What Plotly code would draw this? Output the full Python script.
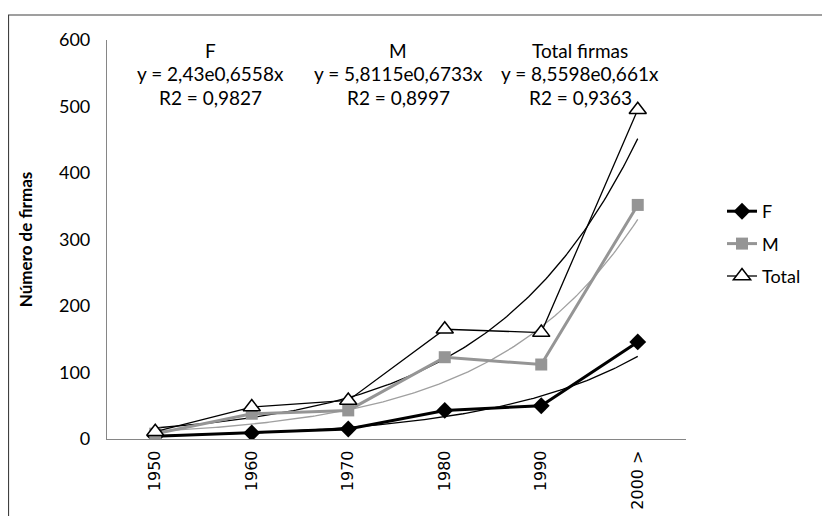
import numpy as np
import plotly.graph_objects as go

categories = ["1950", "1960", "1970", "1980", "1990", "2000 >"]
f_values = [4, 9, 15, 43, 50, 146]
m_values = [8, 38, 43, 123, 112, 352]
total_values = [11, 48, 58, 165, 160, 495]

# exponential trend coefficients shown on the chart: y = a * e^(b*x), x = 1..6
trend_a = [2.43, 5.8115, 8.5598]
trend_b = [0.6558, 0.6733, 0.661]
trend_labels = [["F", "y = 2,43e0,6558x", "R2 = 0,9827"],
                ["M", "y = 5,8115e0,6733x", "R2 = 0,8997"],
                ["Total firmas", "y = 8,5598e0,661x", "R2 = 0,9363"]]

OFF = 8  # page body margin
W, H = 830 - OFF, 516 - OFF
# plot area in page pixels: x 107..686, y 40..439
L, T = 107 - OFF, 40 - OFF
R = W - (686 - OFF)
B = H - (439 - OFF)
plot_w = W - L - R
plot_h = H - T - B

FONT = "Lato, Open Sans, sans-serif"
x_idx = np.arange(len(categories))
xs = np.linspace(0, len(categories) - 1, 200)


def px_x(px):  # page pixel -> paper
    return (px - OFF - L) / plot_w


def px_y(py):
    return (H - B - (py - OFF)) / plot_h


fig = go.Figure()

trend_colors = ["#000000", "#a0a0a0", "#000000"]
for a, b, c in zip(trend_a, trend_b, trend_colors):
    fig.add_trace(go.Scatter(x=xs, y=a * np.exp(b * (xs + 1)), mode="lines",
                             line=dict(color=c, width=1.3), showlegend=False,
                             hoverinfo="skip"))

fig.add_trace(go.Scatter(x=x_idx, y=f_values, name="F", mode="lines+markers",
                         legendgroup="f",
                         line=dict(color="#000000", width=3),
                         marker=dict(symbol="diamond", size=13, color="#000000")))
fig.add_trace(go.Scatter(x=x_idx, y=m_values, name="M", mode="lines+markers",
                         legendgroup="m",
                         line=dict(color="#959595", width=3),
                         marker=dict(symbol="square", size=12, color="#959595")))
fig.add_trace(go.Scatter(x=x_idx, y=total_values, name="Total", mode="lines+markers",
                         legendgroup="t",
                         line=dict(color="#000000", width=1.3),
                         marker=dict(symbol="triangle-up", size=15, color="#ffffff",
                                     line=dict(color="#000000", width=1.5))))

# trend equation labels
label_x_px = [210, 398, 580]
line_y_px = [50, 73, 97]
for px, lines in zip(label_x_px, trend_labels):
    for py, txt in zip(line_y_px, lines):
        fig.add_annotation(xref="paper", yref="paper",
                           x=px_x(px), y=px_y(py),
                           text=txt, showarrow=False,
                           xanchor="center", yanchor="middle",
                           font=dict(family=FONT, size=19, color="#000000"))

# outer frame
fig.add_shape(type="rect", xref="paper", yref="paper",
              x0=px_x(8.5), x1=px_x(900),
              y0=px_y(600), y1=px_y(15),
              line=dict(color="#404040", width=1.2), fillcolor="rgba(0,0,0,0)",
              layer="below")

fig.update_layout(
    width=W, height=H,
    margin=dict(l=L, r=R, t=T, b=B),
    paper_bgcolor="white", plot_bgcolor="white",
    font=dict(family=FONT, size=18, color="#000000"),
    legend=dict(x=px_x(722), y=px_y(193), xanchor="left", yanchor="top",
                font=dict(family=FONT, size=18), tracegroupgap=6,
                traceorder="grouped", bgcolor="rgba(0,0,0,0)"),
    xaxis=dict(range=[-0.5, len(categories) - 0.5], tickmode="array",
               tickvals=list(x_idx), ticktext=categories, tickangle=-90,
               showgrid=False, zeroline=False, showline=True, automargin=False,
               linecolor="#868686", linewidth=1.2, ticks="",
               ticklabelstandoff=4,
               tickfont=dict(family="DejaVu Sans", size=16)),
    yaxis=dict(range=[0, 600], tickvals=[0, 100, 200, 300, 400, 500, 600],
               showgrid=False, zeroline=False, showline=True, automargin=False,
               linecolor="#868686", linewidth=1.2, ticks="",
               ticklabelstandoff=12,
               tickfont=dict(family=FONT, size=18),
               title=dict(text="<b>Número de firmas</b>",
                          font=dict(family=FONT, size=17), standoff=22)),
)

fig.write_html("out.html")
